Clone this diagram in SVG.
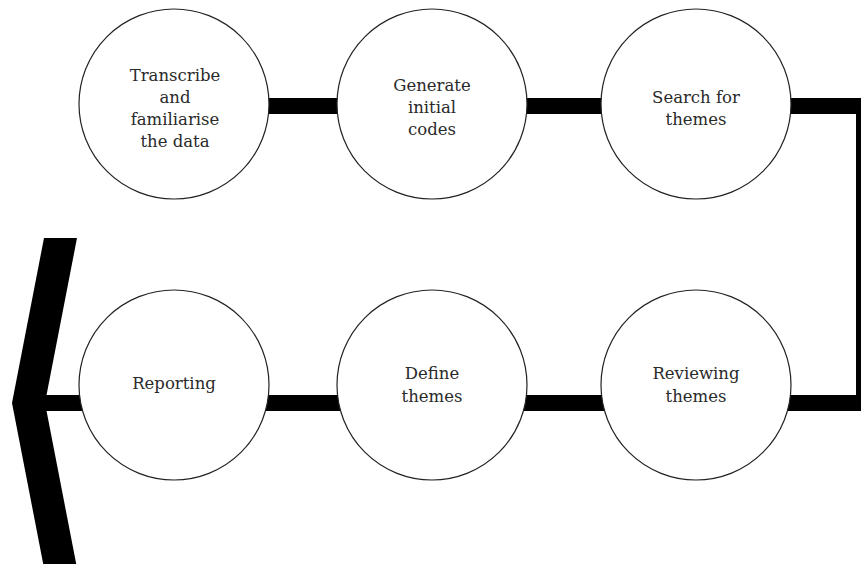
<svg xmlns="http://www.w3.org/2000/svg" width="861" height="564" viewBox="0 0 861 564">
<style>
.node circle{fill:#fff;stroke:#222;stroke-width:1.2}
.node text{font-family:'DejaVu Serif','Liberation Serif',serif;font-size:16.5px;fill:#2a2a2a;text-anchor:middle}
.bar{fill:none;stroke:#000;stroke-width:16}
</style>
<rect width="861" height="564" fill="#fff"/>
<g id="connectors">
<line class="bar" x1="174" y1="106" x2="432" y2="106"/>
<line class="bar" x1="432" y1="106" x2="696" y2="106"/>
<polyline class="bar" points="696,106 864,106 864,403 696,403"/>
<line class="bar" x1="696" y1="403" x2="432" y2="403"/>
<line class="bar" x1="432" y1="403" x2="174" y2="403"/>
<line class="bar" x1="174" y1="403" x2="40" y2="403"/>
<polygon id="exit-chevron" points="44,238 77,238 45,403 77,568 44,568 12,403" fill="#000"/>
</g>
<g id="n1" class="node"><circle cx="174" cy="104" r="95"/>
<text x="175" y="81">Transcribe</text><text x="175" y="103">and</text><text x="175" y="125">familiarise</text><text x="175" y="147">the data</text></g>
<g id="n2" class="node"><circle cx="432" cy="104" r="95"/>
<text x="432" y="91">Generate</text><text x="432" y="113">initial</text><text x="432" y="135">codes</text></g>
<g id="n3" class="node"><circle cx="696" cy="104" r="95"/>
<text x="696" y="103">Search for</text><text x="696" y="125">themes</text></g>
<g id="n4" class="node"><circle cx="696" cy="385" r="95"/>
<text x="696" y="379">Reviewing</text><text x="696" y="402">themes</text></g>
<g id="n5" class="node"><circle cx="432" cy="385" r="95"/>
<text x="432" y="379">Define</text><text x="432" y="402">themes</text></g>
<g id="n6" class="node"><circle cx="174" cy="385" r="95"/>
<text x="174" y="389">Reporting</text></g>
</svg>
